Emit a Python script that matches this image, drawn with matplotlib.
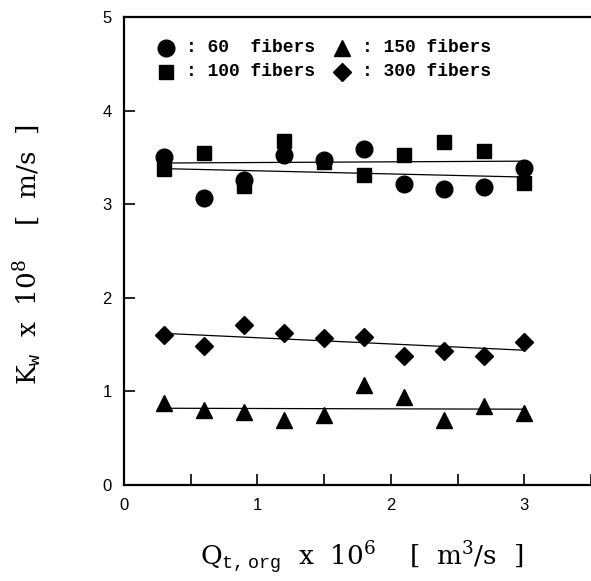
import matplotlib
matplotlib.use("Agg")
import matplotlib.pyplot as plt
from matplotlib.ticker import MultipleLocator

plt.rcParams['mathtext.fontset'] = 'custom'
plt.rcParams['mathtext.rm'] = 'DejaVu Serif'
plt.rcParams['mathtext.it'] = 'DejaVu Serif'
plt.rcParams['mathtext.tt'] = 'Liberation Mono'

# Data
q = [0.3, 0.6, 0.9, 1.2, 1.5, 1.8, 2.1, 2.4, 2.7, 3.0]
k60 = [3.50, 3.07, 3.26, 3.53, 3.47, 3.59, 3.22, 3.16, 3.18, 3.39]
k100 = [3.38, 3.55, 3.19, 3.67, 3.45, 3.31, 3.53, 3.66, 3.57, 3.23]
k150 = [0.88, 0.80, 0.78, 0.69, 0.75, 1.07, 0.94, 0.69, 0.84, 0.77]
k300 = [1.60, 1.48, 1.71, 1.62, 1.57, 1.58, 1.38, 1.43, 1.38, 1.53]

# Fitted lines (end values)
fit_x = [0.3, 3.0]
fit60 = [3.44, 3.46]
fit100 = [3.38, 3.29]
fit150 = [0.82, 0.81]
fit300 = [1.62, 1.44]

legend_labels = [": 60  fibers", ": 100 fibers", ": 150 fibers", ": 300 fibers"]

fig = plt.figure(figsize=(5.91, 5.81), dpi=100)
ax = fig.add_axes([124/591, 96/581, 467/591, 468/581])

for ys in (fit60, fit100, fit150, fit300):
    ax.plot(fit_x, ys, color='black', lw=0.9)

ax.plot(q, k60, 'o', color='black', ms=12, ls='none')
ax.plot(q, k100, 's', color='black', ms=9.5, ls='none')
ax.plot(q, k150, '^', color='black', ms=11, ls='none')
ax.plot(q, k300, 'D', color='black', ms=9.5, ls='none')

ax.set_xlim(0, 3.5)
ax.set_ylim(0, 5)
ax.xaxis.set_major_locator(MultipleLocator(1))
ax.xaxis.set_minor_locator(MultipleLocator(0.5))
ax.yaxis.set_major_locator(MultipleLocator(1))
ax.tick_params(axis='both', which='both', direction='in', length=8, width=1.2,
               labelsize=12, top=False, right=False)
ax.tick_params(axis='x', pad=9)
ax.tick_params(axis='y', pad=9)
ax.spines['right'].set_visible(False)
for s in ('left', 'bottom', 'top'):
    ax.spines[s].set_linewidth(1.6)
for lbl in ax.get_xticklabels() + ax.get_yticklabels():
    lbl.set_fontfamily('Liberation Sans')

# Legend drawn manually
markers = ['o', 's', '^', 'D']
sizes = [12, 9.5, 11, 9.5]
pos = [(165.7, 48), (165.7, 72), (341.7, 48), (341.7, 72)]
for m, s, (px, py), lab in zip(markers, sizes, pos, legend_labels):
    xa = (px - 124) / 467
    ya = (485 - py) / 468
    ax.plot([xa], [ya], m, color='black', ms=s, transform=ax.transAxes, clip_on=False)
    ax.text(xa + 20/467, ya, lab, transform=ax.transAxes, va='center', ha='left',
            fontsize=13, fontfamily='Liberation Mono', fontweight='bold')

ax.set_xlabel(r'$\mathrm{Q_{\mathtt{t,org}}\ \ x\ \ 10^{6}\ \ \ \ [\ \ m^{3}/s\ \ ]}$', fontsize=19)
ax.xaxis.set_label_coords((362 - 124) / 467, (485 - 540) / 468)
ax.set_ylabel(r'$\mathrm{K_{\mathtt{w}}\ \ x\ \ 10^{8}\ \ \ \ [\ \ m/s\ \ ]}$', fontsize=19)
ax.yaxis.set_label_coords((44 - 124) / 467, (485 - 255) / 468)

fig.savefig('out.png', dpi=100)
